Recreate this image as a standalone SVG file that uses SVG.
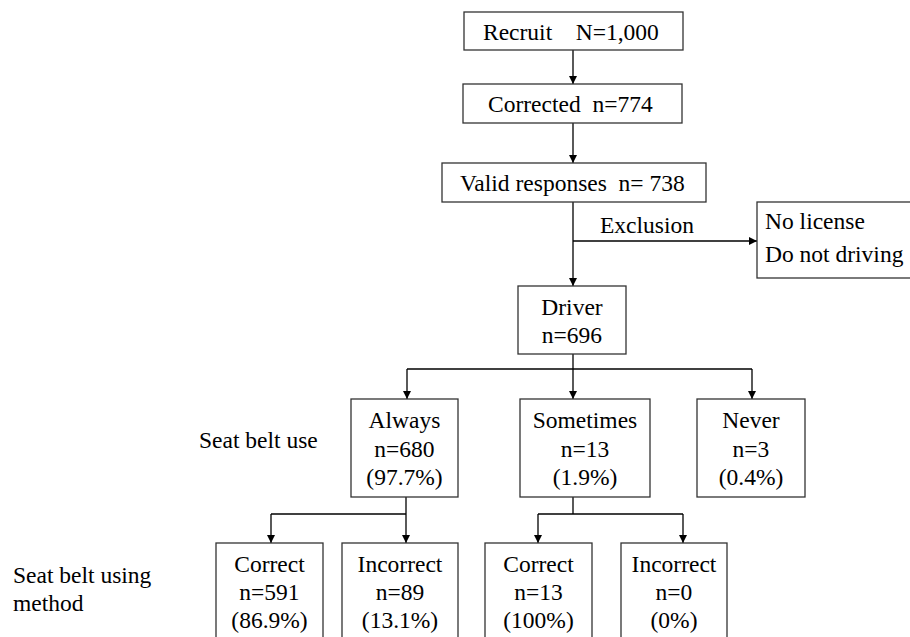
<svg xmlns="http://www.w3.org/2000/svg" width="910" height="637" viewBox="0 0 910 637">
<style>
.box{fill:#fff;stroke:#333;stroke-width:1.3}
.t{font-family:"Liberation Serif","DejaVu Serif",serif;font-size:23.5px;fill:#000}
.c{text-anchor:middle}
.ln{fill:none;stroke:#000;stroke-width:1.3}
</style>
<defs>
<marker id="ah" viewBox="0 0 10 10" refX="10" refY="5" markerWidth="8" markerHeight="8" markerUnits="userSpaceOnUse" orient="auto">
<path d="M0,0 L10,5 L0,10 z" fill="#000"/>
</marker>
</defs>
<rect width="910" height="637" fill="#fff"/>
<g id="connectors">
<line class="ln" x1="573" y1="50" x2="573" y2="84" marker-end="url(#ah)"/>
<line class="ln" x1="573" y1="123" x2="573" y2="163" marker-end="url(#ah)"/>
<line class="ln" x1="573" y1="202" x2="573" y2="286" marker-end="url(#ah)"/>
<line class="ln" x1="573" y1="241" x2="757" y2="241" marker-end="url(#ah)"/>
<line class="ln" x1="573" y1="354" x2="573" y2="369"/>
<line class="ln" x1="407" y1="369" x2="752" y2="369"/>
<line class="ln" x1="407" y1="369" x2="407" y2="399" marker-end="url(#ah)"/>
<line class="ln" x1="573" y1="369" x2="573" y2="399" marker-end="url(#ah)"/>
<line class="ln" x1="752" y1="369" x2="752" y2="399" marker-end="url(#ah)"/>
<line class="ln" x1="406" y1="497" x2="406" y2="543" marker-end="url(#ah)"/>
<line class="ln" x1="271" y1="514" x2="406" y2="514"/>
<line class="ln" x1="271" y1="514" x2="271" y2="543" marker-end="url(#ah)"/>
<line class="ln" x1="573" y1="497" x2="573" y2="514"/>
<line class="ln" x1="538" y1="514" x2="683" y2="514"/>
<line class="ln" x1="538" y1="514" x2="538" y2="543" marker-end="url(#ah)"/>
<line class="ln" x1="683" y1="514" x2="683" y2="543" marker-end="url(#ah)"/>
</g>
<g id="recruit"><rect class="box" x="464" y="12" width="219" height="38"/><text class="t" x="483" y="40" xml:space="preserve">Recruit    N=1,000</text></g>
<g id="corrected"><rect class="box" x="463" y="84" width="219" height="39"/><text class="t" x="488" y="112" xml:space="preserve">Corrected  n=774</text></g>
<g id="valid"><rect class="box" x="442" y="163" width="264" height="39"/><text class="t" x="460" y="191" xml:space="preserve">Valid responses  n= 738</text></g>
<text class="t" x="600" y="233">Exclusion</text>
<g id="exclusion"><rect class="box" x="757" y="202" width="160" height="76"/><text class="t" x="765" y="229">No license</text><text class="t" x="765" y="262">Do not driving</text></g>
<g id="driver"><rect class="box" x="518" y="286" width="108" height="68"/><text class="t c" x="572" y="315">Driver</text><text class="t c" x="572" y="343">n=696</text></g>
<text class="t" x="199" y="448">Seat belt use</text>
<g id="always"><rect class="box" x="351" y="399" width="107" height="98"/><text class="t c" x="404.5" y="428">Always</text><text class="t c" x="404.5" y="457">n=680</text><text class="t c" x="404.5" y="485">(97.7%)</text></g>
<g id="sometimes"><rect class="box" x="520" y="399" width="130" height="98"/><text class="t c" x="585" y="428">Sometimes</text><text class="t c" x="585" y="457">n=13</text><text class="t c" x="585" y="485">(1.9%)</text></g>
<g id="never"><rect class="box" x="697" y="399" width="108" height="98"/><text class="t c" x="751" y="428">Never</text><text class="t c" x="751" y="457">n=3</text><text class="t c" x="751" y="485">(0.4%)</text></g>
<text class="t" x="13" y="583">Seat belt using</text>
<text class="t" x="13" y="611">method</text>
<g id="correct1"><rect class="box" x="216" y="543" width="107" height="100"/><text class="t c" x="269.5" y="572">Correct</text><text class="t c" x="269.5" y="600">n=591</text><text class="t c" x="269.5" y="628">(86.9%)</text></g>
<g id="incorrect1"><rect class="box" x="342" y="543" width="116" height="100"/><text class="t c" x="400" y="572">Incorrect</text><text class="t c" x="400" y="600">n=89</text><text class="t c" x="400" y="628">(13.1%)</text></g>
<g id="correct2"><rect class="box" x="485" y="543" width="107" height="100"/><text class="t c" x="538.5" y="572">Correct</text><text class="t c" x="538.5" y="600">n=13</text><text class="t c" x="538.5" y="628">(100%)</text></g>
<g id="incorrect2"><rect class="box" x="621" y="543" width="106" height="100"/><text class="t c" x="674" y="572">Incorrect</text><text class="t c" x="674" y="600">n=0</text><text class="t c" x="674" y="628">(0%)</text></g>
</svg>
